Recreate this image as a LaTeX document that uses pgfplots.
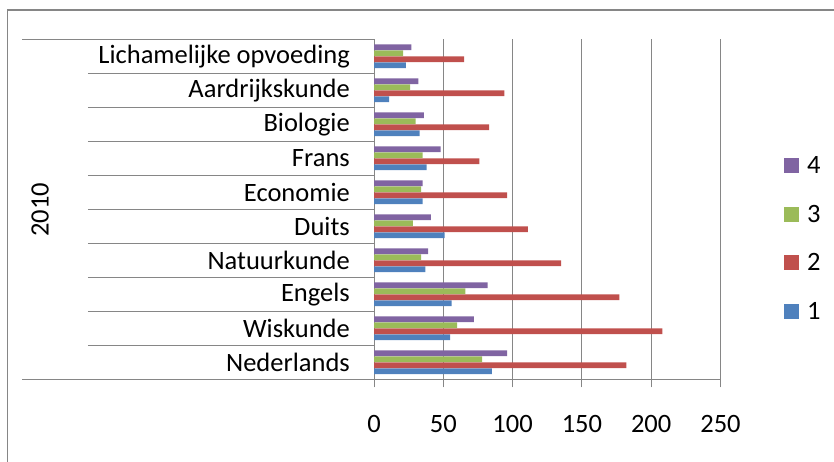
\documentclass[border=0pt]{standalone}
\usepackage{pgfplots}
\pgfplotsset{compat=1.18}
\usepackage{fontspec}
\setmainfont{Carlito}
\definecolor{s1}{RGB}{79,129,189}
\definecolor{s2}{RGB}{192,80,77}
\definecolor{s3}{RGB}{155,187,89}
\definecolor{s4}{RGB}{128,100,162}
\definecolor{ax}{RGB}{134,134,134}
\begin{document}
\begin{tikzpicture}
\useasboundingbox (0pt,0pt) rectangle (834pt,462pt);
\draw[ax,line width=1.3pt] (845pt,452pt) -- (7.5pt,452pt) -- (7.5pt,-10pt);
\node[rotate=90,font=\fontsize{26.5}{31}\selectfont] at (40pt,252pt) {2010};
\begin{axis}[
  at={(374pt,82.7pt)}, anchor=south west,
  scale only axis, width=346.5pt, height=340pt,
  font=\fontsize{26.5}{31}\selectfont,
  /pgf/number format/assume math mode=true,
  xbar, bar width=5.6pt,
  xmin=0, xmax=250, ymin=-0.5, ymax=9.5,
  axis x line*=bottom, axis y line*=left,
  axis line style={ax,line width=1pt},
  xtick={0,50,100,150,200,250},
  xmajorgrids, grid style={ax,line width=1pt},
  tick style={ax,line width=1pt},
  tick align=outside,
  major tick length=8pt,
  minor tick length=286pt,
  xticklabel style={anchor=base,yshift=-45pt,inner sep=0pt},
  ytick={0,...,9},
  yticklabels={Nederlands,Wiskunde,Engels,Natuurkunde,Duits,Economie,Frans,Biologie,Aardrijkskunde,Lichamelijke opvoeding},
  every major y tick/.append style={draw=none},
  minor ytick={-0.5,0.5,...,9.5},
  yticklabel style={anchor=east,inner sep=0pt,xshift=-16pt},
  legend reversed,
  legend style={draw=none, at={(axis description cs:1.183,0.414)}, anchor=west, inner sep=0pt,
    row sep=26pt, font=\fontsize{26.5}{31}\selectfont,
    /tikz/every odd column/.append style={column sep=6pt}},
  legend cell align=left,
  legend image code/.code={\path[#1,draw=none] (0pt,-7.5pt) rectangle (15pt,7.5pt);},
  clip=false,
]
\addplot[fill=s1,draw=none,bar shift=-9pt] coordinates {(85,0) (55,1) (56,2) (37,3) (51,4) (35,5) (38,6) (33,7) (11,8) (23,9)};
\addplot[fill=s2,draw=none,bar shift=-3pt] coordinates {(182,0) (208,1) (177,2) (135,3) (111,4) (96,5) (76,6) (83,7) (94,8) (65,9)};
\addplot[fill=s3,draw=none,bar shift=3pt] coordinates {(78,0) (60,1) (66,2) (34,3) (28,4) (34,5) (35,6) (30,7) (26,8) (21,9)};
\addplot[fill=s4,draw=none,bar shift=9pt] coordinates {(96,0) (72,1) (82,2) (39,3) (41,4) (35,5) (48,6) (36,7) (32,8) (27,9)};
\legend{1,2,3,4}
\draw[ax,line width=1pt] (axis cs:0,9.5) -- ([xshift=-352pt]axis cs:0,9.5);
\draw[ax,line width=1pt] (axis cs:0,-0.5) -- ([xshift=-352pt]axis cs:0,-0.5);
\end{axis}
\end{tikzpicture}
\end{document}
